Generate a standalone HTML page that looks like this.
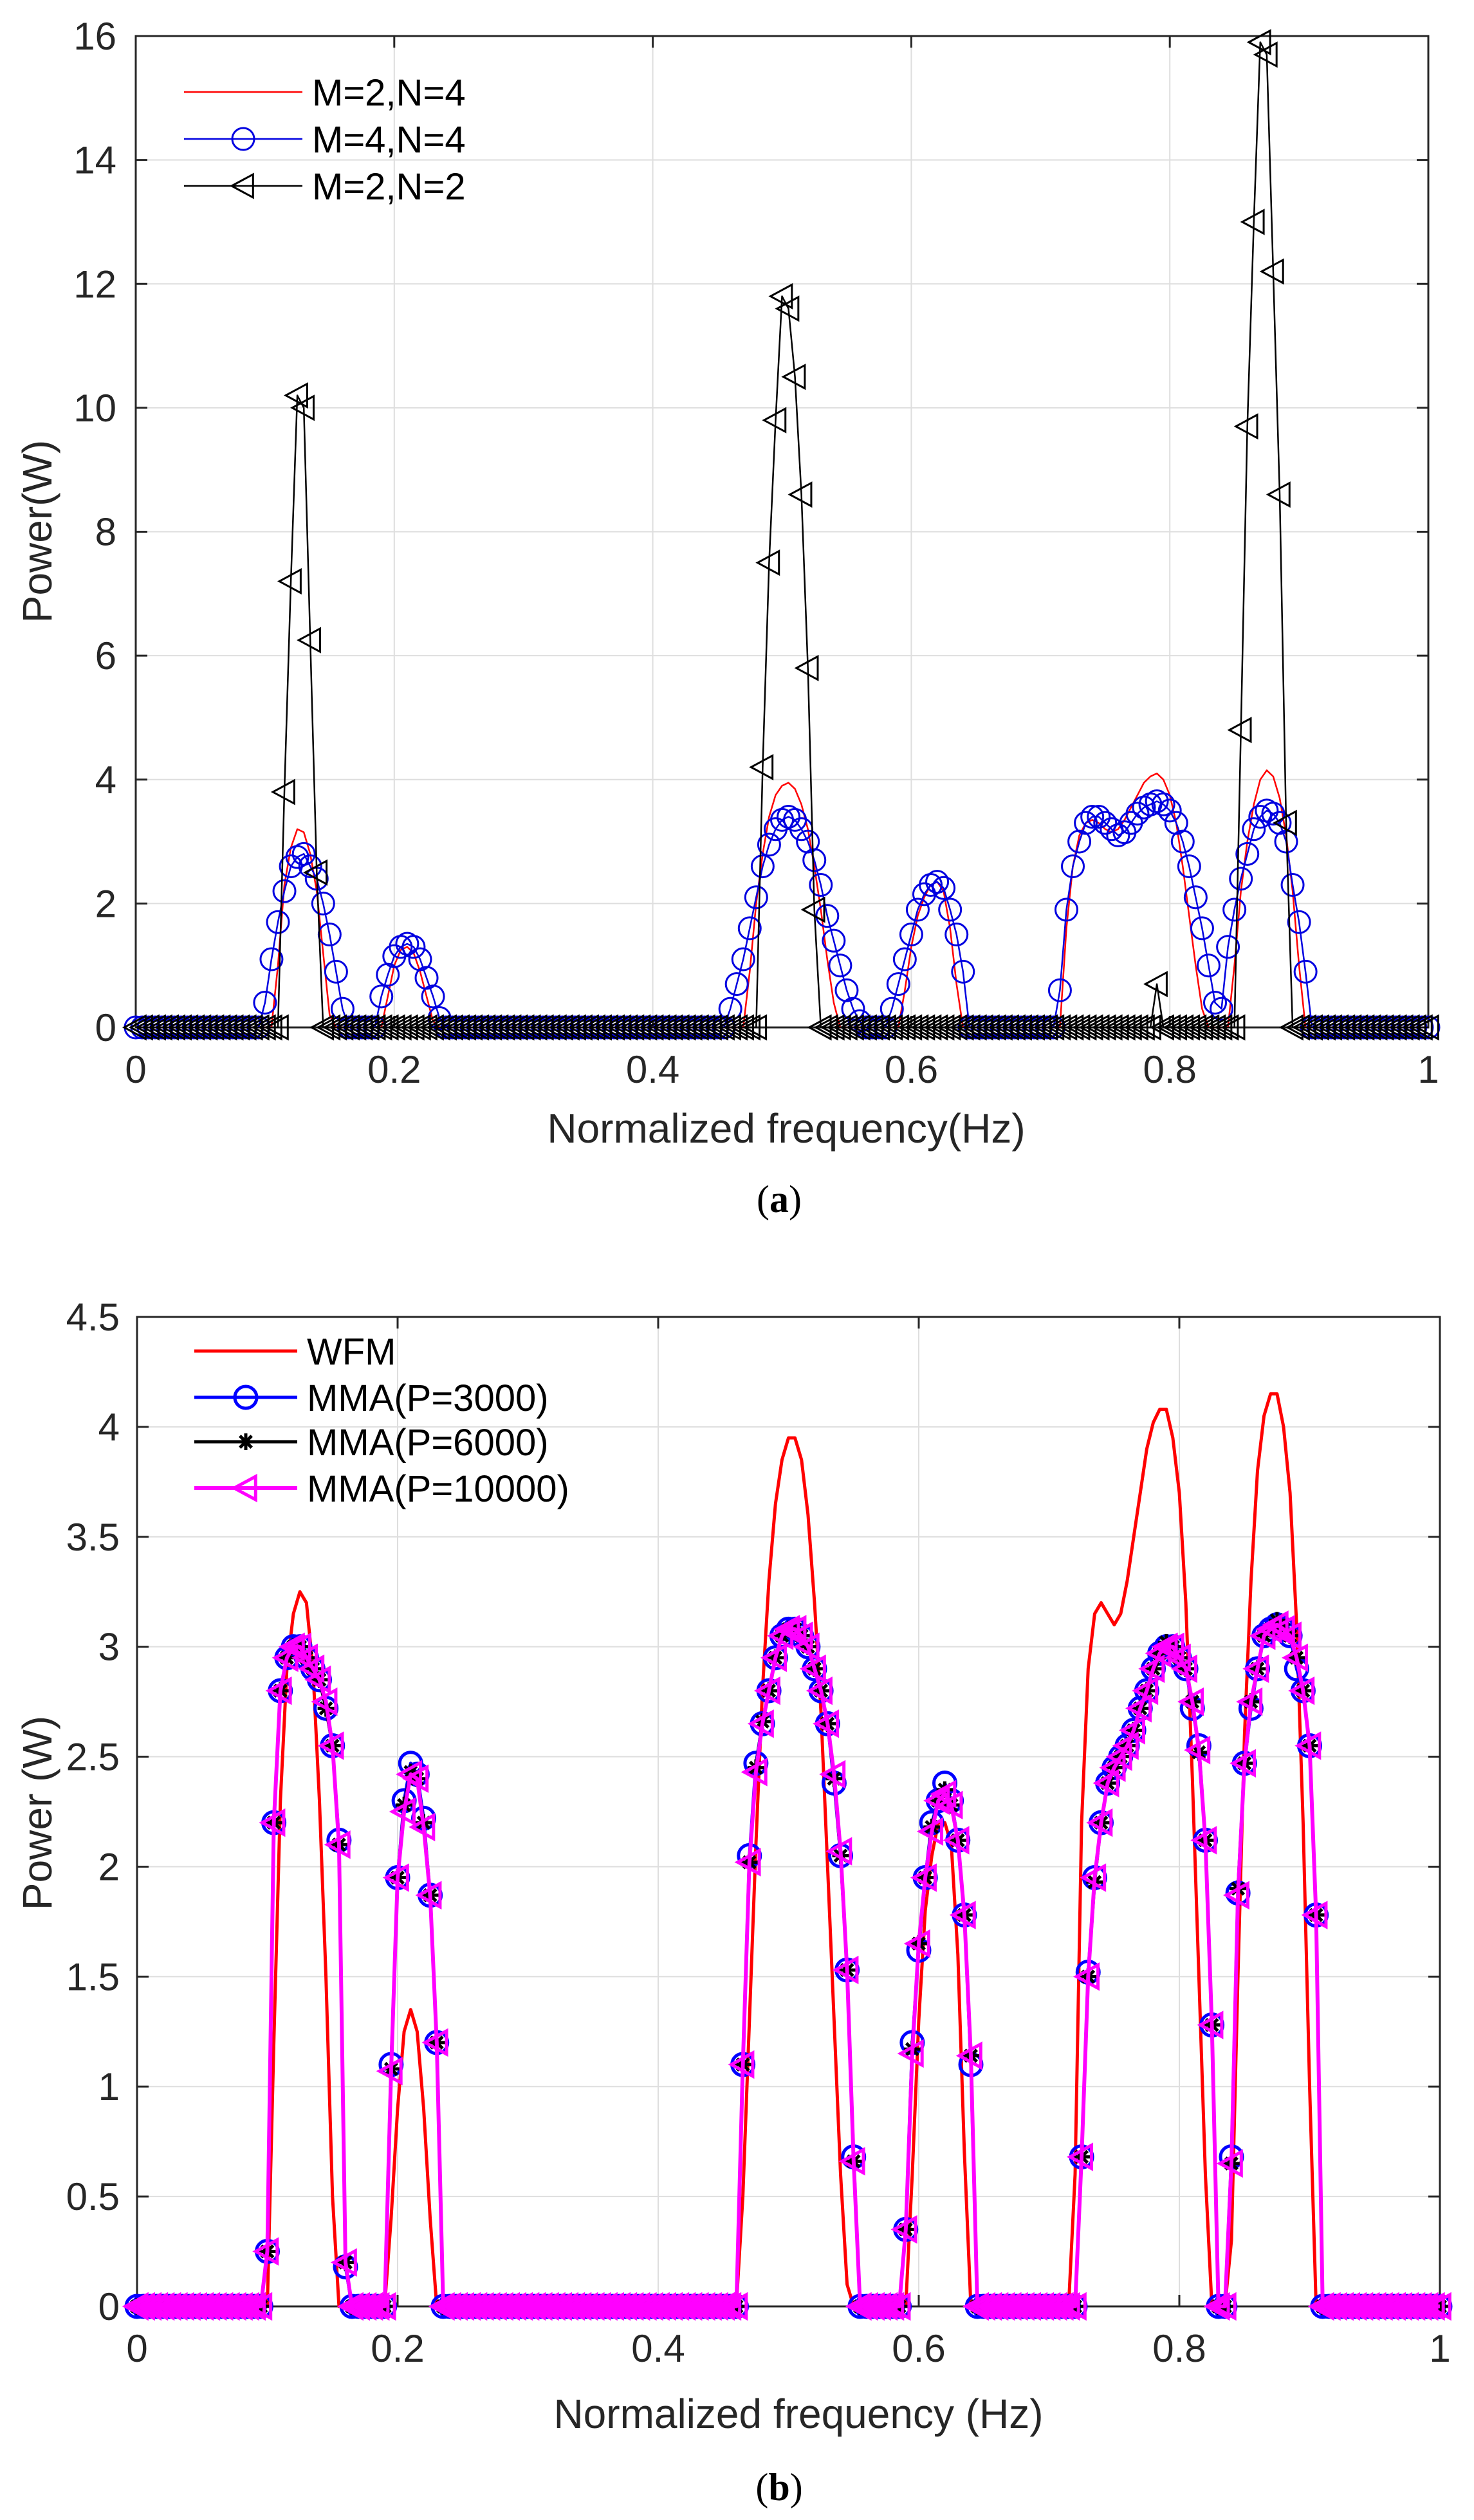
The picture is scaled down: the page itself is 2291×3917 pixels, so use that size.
<!DOCTYPE html>
<html><head><meta charset="utf-8"><title>Power spectrum charts</title>
<style>
html,body{margin:0;padding:0;background:#fff;}
svg{display:block;font-family:"Liberation Sans",sans-serif;}
</style></head>
<body>
<svg id="fig" width="2291" height="3917" viewBox="0 0 2291 3917" xmlns="http://www.w3.org/2000/svg">
<rect x="0" y="0" width="2291" height="3917" fill="#fff"/>
</svg>
<script>
// ===== Shared frequency grid (step 0.005, 0..1) =====
const freqStep = 0.005;
const freqCount = 201;

// ===== Chart (a) data =====
const xTicksA = [0, 0.2, 0.4, 0.6, 0.8, 1];
const xTickLabelsA = ["0", "0.2", "0.4", "0.6", "0.8", "1"];
const yTicksA = [0, 2, 4, 6, 8, 10, 12, 14, 16];
const yTickLabelsA = ["0", "2", "4", "6", "8", "10", "12", "14", "16"];
const legendA = ["M=2,N=4", "M=4,N=4", "M=2,N=2"];

const seriesA_M2N4 = [
0,0,0,0,0,0,0,0,0,0,0,0,0,0,0,0,0,0,0,0,
0,0,1.0,2.3,2.9,3.2,3.15,2.8,2.2,1.2,0.2,0,0,0,0,0,0,0,0,0.5,
1.0,1.25,1.3,1.2,0.9,0.5,0.1,0,0,0,0,0,0,0,0,0,0,0,0,0,
0,0,0,0,0,0,0,0,0,0,0,0,0,0,0,0,0,0,0,0,
0,0,0,0,0,0,0,0,0,0,0,0,0,0,0,0.9,2.0,2.8,3.4,3.75,
3.9,3.95,3.85,3.6,3.2,2.6,1.9,1.1,0.4,0,0,0,0,0,0,0,0,0,0,0.6,
1.3,1.8,2.1,2.3,2.35,2.2,1.6,0.7,0,0,0,0,0,0,0,0,0,0,0,0,
0,0,0,0,1.6,2.6,3.1,3.3,3.35,3.3,3.2,3.15,3.2,3.35,3.55,3.75,3.95,4.05,4.1,4.0,
3.75,3.3,2.6,1.8,1.0,0.3,0,0,0,0,1.0,2.2,3.0,3.6,4.0,4.15,4.05,3.7,3.1,2.2,
1.0,0,0,0,0,0,0,0,0,0,0,0,0,0,0,0,0,0,0,0,
0];
const seriesA_M4N4 = [
0,0,0,0,0,0,0,0,0,0,0,0,0,0,0,0,0,0,0,0,
0.4,1.1,1.7,2.2,2.6,2.75,2.8,2.6,2.4,2.0,1.5,0.9,0.3,0,0,0,0,0,0.5,0.85,
1.15,1.3,1.35,1.3,1.1,0.8,0.5,0.15,0,0,0,0,0,0,0,0,0,0,0,0,
0,0,0,0,0,0,0,0,0,0,0,0,0,0,0,0,0,0,0,0,
0,0,0,0,0,0,0,0,0,0,0,0,0.3,0.7,1.1,1.6,2.1,2.6,2.95,3.2,
3.35,3.4,3.35,3.2,3.0,2.7,2.3,1.8,1.4,1.0,0.6,0.3,0.1,0,0,0,0,0.3,0.7,1.1,
1.5,1.9,2.15,2.3,2.35,2.25,1.9,1.5,0.9,0,0,0,0,0,0,0,0,0,0,0,
0,0,0,0.6,1.9,2.6,3.0,3.3,3.4,3.4,3.3,3.2,3.1,3.15,3.3,3.45,3.55,3.6,3.65,3.6,
3.5,3.3,3.0,2.6,2.1,1.6,1.0,0.4,0.3,1.3,1.9,2.4,2.8,3.2,3.4,3.5,3.45,3.3,3.0,2.3,
1.7,0.9,0,0,0,0,0,0,0,0,0,0,0,0,0,0,0,0,0,0,
0];
const seriesA_M2N2 = [
0,0,0,0,0,0,0,0,0,0,0,0,0,0,0,0,0,0,0,0,
0,0,0,3.8,7.2,10.2,10.0,6.25,2.5,0,0,0,0,0,0,0,0,0,0,0,
0,0,0,0,0,0,0,0,0,0,0,0,0,0,0,0,0,0,0,0,
0,0,0,0,0,0,0,0,0,0,0,0,0,0,0,0,0,0,0,0,
0,0,0,0,0,0,0,0,0,0,0,0,0,0,0,0,0,4.2,7.5,9.8,
11.8,11.6,10.5,8.6,5.8,1.9,0,0,0,0,0,0,0,0,0,0,0,0,0,0,
0,0,0,0,0,0,0,0,0,0,0,0,0,0,0,0,0,0,0,0,
0,0,0,0,0,0,0,0,0,0,0,0,0,0,0,0,0,0,0.7,0,
0,0,0,0,0,0,0,0,0,0,0,4.8,9.7,13.0,15.9,15.7,12.2,8.6,3.3,0,
0,0,0,0,0,0,0,0,0,0,0,0,0,0,0,0,0,0,0,0,
0];

// ===== Chart (b) data =====
const xTicksB = [0, 0.2, 0.4, 0.6, 0.8, 1];
const xTickLabelsB = ["0", "0.2", "0.4", "0.6", "0.8", "1"];
const yTicksB = [0, 0.5, 1, 1.5, 2, 2.5, 3, 3.5, 4, 4.5];
const yTickLabelsB = ["0", "0.5", "1", "1.5", "2", "2.5", "3", "3.5", "4", "4.5"];
const legendB = ["WFM", "MMA(P=3000)", "MMA(P=6000)", "MMA(P=10000)"];

const seriesB_WFM = [
0,0,0,0,0,0,0,0,0,0,0,0,0,0,0,0,0,0,0,0,
0,1.2,2.3,2.9,3.15,3.25,3.2,2.9,2.3,1.5,0.5,0,0,0,0,0,0,0,0,0.4,
0.9,1.25,1.35,1.25,0.9,0.4,0,0,0,0,0,0,0,0,0,0,0,0,0,0,
0,0,0,0,0,0,0,0,0,0,0,0,0,0,0,0,0,0,0,0,
0,0,0,0,0,0,0,0,0,0,0,0,0,0.5,1.3,2.1,2.8,3.3,3.65,3.85,
3.95,3.95,3.85,3.6,3.2,2.7,2.0,1.3,0.6,0.1,0,0,0,0,0,0,0,0,0,0.6,
1.3,1.8,2.05,2.2,2.2,2.1,1.6,0.7,0,0,0,0,0,0,0,0,0,0,0,0,
0,0,0,0,0.6,2.2,2.9,3.15,3.2,3.15,3.1,3.15,3.3,3.5,3.7,3.9,4.02,4.08,4.08,3.95,
3.7,3.2,2.4,1.5,0.6,0,0,0,0.3,1.5,2.6,3.3,3.8,4.05,4.15,4.15,4.0,3.7,3.1,2.2,
1.0,0,0,0,0,0,0,0,0,0,0,0,0,0,0,0,0,0,0,0,
0];
const seriesB_P3000 = [
0,0,0,0,0,0,0,0,0,0,0,0,0,0,0,0,0,0,0,0,
0.25,2.2,2.8,2.95,3.0,3.0,2.95,2.9,2.85,2.72,2.55,2.12,0.18,0,0,0,0,0,0,1.1,
1.95,2.3,2.47,2.42,2.22,1.87,1.2,0,0,0,0,0,0,0,0,0,0,0,0,0,
0,0,0,0,0,0,0,0,0,0,0,0,0,0,0,0,0,0,0,0,
0,0,0,0,0,0,0,0,0,0,0,0,0,1.1,2.05,2.47,2.65,2.8,2.95,3.05,
3.08,3.08,3.05,3.0,2.9,2.8,2.65,2.38,2.05,1.53,0.68,0,0,0,0,0,0,0,0.35,1.2,
1.62,1.95,2.2,2.3,2.38,2.3,2.12,1.78,1.1,0,0,0,0,0,0,0,0,0,0,0,
0,0,0,0,0,0.68,1.52,1.95,2.2,2.38,2.45,2.5,2.55,2.62,2.72,2.8,2.9,2.97,3.0,3.0,
2.95,2.9,2.72,2.55,2.12,1.28,0,0,0.68,1.88,2.47,2.72,2.9,3.05,3.08,3.1,3.08,3.05,2.9,2.8,
2.55,1.78,0,0,0,0,0,0,0,0,0,0,0,0,0,0,0,0,0,0,
0];
const seriesB_P6000 = [
0,0,0,0,0,0,0,0,0,0,0,0,0,0,0,0,0,0,0,0,
0.25,2.2,2.8,2.95,3.0,3.0,2.95,2.9,2.85,2.72,2.55,2.1,0.2,0,0,0,0,0,0,1.08,
1.95,2.28,2.43,2.4,2.2,1.87,1.2,0,0,0,0,0,0,0,0,0,0,0,0,0,
0,0,0,0,0,0,0,0,0,0,0,0,0,0,0,0,0,0,0,0,
0,0,0,0,0,0,0,0,0,0,0,0,0,1.1,2.02,2.45,2.66,2.8,2.95,3.05,
3.08,3.08,3.05,3.0,2.9,2.8,2.65,2.4,2.05,1.53,0.66,0,0,0,0,0,0,0,0.35,1.17,
1.65,1.95,2.18,2.3,2.35,2.28,2.12,1.78,1.14,0,0,0,0,0,0,0,0,0,0,0,
0,0,0,0,0,0.68,1.5,1.93,2.2,2.38,2.45,2.5,2.55,2.62,2.72,2.8,2.9,2.97,3.02,3.0,
2.95,2.9,2.75,2.52,2.12,1.28,0,0,0.65,1.9,2.47,2.75,2.9,3.05,3.08,3.12,3.08,3.05,2.95,2.8,
2.55,1.78,0,0,0,0,0,0,0,0,0,0,0,0,0,0,0,0,0,0,
0];
const seriesB_P10000 = [
0,0,0,0,0,0,0,0,0,0,0,0,0,0,0,0,0,0,0,0,
0.25,2.2,2.8,2.95,3.0,3.0,2.95,2.9,2.85,2.75,2.55,2.1,0.2,0,0,0,0,0,0,1.07,
1.95,2.25,2.42,2.4,2.18,1.87,1.2,0,0,0,0,0,0,0,0,0,0,0,0,0,
0,0,0,0,0,0,0,0,0,0,0,0,0,0,0,0,0,0,0,0,
0,0,0,0,0,0,0,0,0,0,0,0,0,1.1,2.02,2.43,2.65,2.8,2.95,3.05,
3.08,3.08,3.05,3.0,2.9,2.8,2.65,2.42,2.07,1.53,0.66,0,0,0,0,0,0,0,0.35,1.15,
1.65,1.95,2.16,2.3,2.33,2.28,2.12,1.78,1.14,0,0,0,0,0,0,0,0,0,0,0,
0,0,0,0,0,0.68,1.5,1.95,2.2,2.38,2.45,2.5,2.55,2.62,2.72,2.8,2.9,2.97,3.0,3.0,
2.95,2.9,2.75,2.53,2.12,1.28,0,0,0.65,1.87,2.47,2.75,2.9,3.05,3.08,3.1,3.08,3.05,2.95,2.8,
2.55,1.78,0,0,0,0,0,0,0,0,0,0,0,0,0,0,0,0,0,0,
0];

// ===== Rendering =====
const NS = "http://www.w3.org/2000/svg";
const svg = document.getElementById("fig");
function mk(tag, attrs, parent) {
  const e = document.createElementNS(NS, tag);
  for (const k in attrs) e.setAttribute(k, attrs[k]);
  (parent || svg).appendChild(e);
  return e;
}
function linScale(d0, d1, r0, r1) { return v => r0 + (v - d0) / (d1 - d0) * (r1 - r0); }

function markerCircle(g, cx, cy, r, color, sw) {
  const c = mk("circle", {cx: cx, cy: cy, r: r, fill: "none", stroke: color, "stroke-width": sw}, g);
  
  
}
function markerTri(g, cx, cy, s, color, sw) {
  const p = mk("polygon", {points: (cx - s) + "," + cy + " " + (cx + s * 0.85) + "," + (cy - s) + " " + (cx + s * 0.85) + "," + (cy + s),
    fill: "none", stroke: color, "stroke-width": sw, "stroke-linejoin": "miter"}, g);
  
  
}
function markerStar(g, cx, cy, s, color, sw) {
  let d = "";
  for (let k = 0; k < 4; k++) {
    const a = k * Math.PI / 4;
    d += "M" + (cx - s * Math.cos(a)) + "," + (cy - s * Math.sin(a)) + "L" + (cx + s * Math.cos(a)) + "," + (cy + s * Math.sin(a));
  }
  const p = mk("path", {d: d, stroke: color, "stroke-width": sw, fill: "none"}, g);
  
  
}

function drawChart(cfg) {
  const {L, R, T, B, ymax, xTicks, xLabels, yTicks, yLabels, name} = cfg;
  const sx = linScale(0, 1, L, R);
  const sy = linScale(0, ymax, B, T);
  const g = mk("g", {});
  
  

  // grid
  const grid = mk("g", {stroke: "#dedede", "stroke-width": 2}, g);
  
  
  xTicks.forEach(v => { if (v > 0 && v < 1) mk("line", {x1: sx(v), x2: sx(v), y1: T, y2: B}, grid); });
  yTicks.forEach(v => { if (v > 0 && v < ymax) mk("line", {x1: L, x2: R, y1: sy(v), y2: sy(v)}, grid); });

  // axes box + ticks
  const ax = mk("g", {stroke: "#262626", "stroke-width": 3, fill: "none"}, g);
  
  
  mk("rect", {x: L, y: T, width: R - L, height: B - T}, ax);
  xTicks.forEach(v => {
    mk("line", {x1: sx(v), x2: sx(v), y1: B, y2: B - 18}, ax);
    mk("line", {x1: sx(v), x2: sx(v), y1: T, y2: T + 18}, ax);
  });
  yTicks.forEach(v => {
    mk("line", {x1: L, x2: L + 18, y1: sy(v), y2: sy(v)}, ax);
    mk("line", {x1: R, x2: R - 18, y1: sy(v), y2: sy(v)}, ax);
  });

  // tick labels
  const xl = mk("g", {"font-size": 60, fill: "#262626", "text-anchor": "middle"}, g);
  
  
  xTicks.forEach((v, i) => { const t = mk("text", {x: sx(v), y: B + 86}, xl); t.textContent = xLabels[i]; });
  const yl = mk("g", {"font-size": 60, fill: "#262626", "text-anchor": "end"}, g);
  
  
  yTicks.forEach((v, i) => { const t = mk("text", {x: cfg.yLabX, y: sy(v) + 21}, yl); t.textContent = yLabels[i]; });

  // titles
  const xt = mk("text", {x: cfg.xTitleX, y: cfg.xTitleY, "font-size": 64, fill: "#262626", "text-anchor": "middle"}, g);
  xt.textContent = cfg.xTitle;
  
  
  const yt = mk("text", {x: 0, y: 0, "font-size": 64, fill: "#262626", "text-anchor": "middle",
    transform: "translate(" + cfg.yTitleX + "," + cfg.yTitleY + ") rotate(-90)"}, g);
  yt.textContent = cfg.yTitle;
  
  

  // caption
  const cap = mk("text", {x: cfg.capX, y: cfg.capY, "font-size": 60, fill: "#000", "text-anchor": "middle",
    "font-family": "Liberation Serif, serif"}, g);
  
  
  const t1 = mk("tspan", {}, cap); t1.textContent = "(";
  const t2 = mk("tspan", {"font-weight": "bold"}, cap); t2.textContent = cfg.capLetter;
  const t3 = mk("tspan", {}, cap); t3.textContent = ")";

  // series
  cfg.series.forEach(s => {
    const sg = mk("g", {}, g);
    
    
    let d = "";
    s.values.forEach((v, i) => { d += (i ? "L" : "M") + sx(i * freqStep).toFixed(1) + "," + sy(v).toFixed(1); });
    const p = mk("path", {d: d, fill: "none", stroke: s.color, "stroke-width": s.lw, "stroke-linejoin": "round"}, sg);
    
    
    if (s.marker) {
      s.values.forEach((v, i) => {
        const cx = sx(i * freqStep), cy = sy(v);
        if (s.marker === "circle") markerCircle(sg, cx, cy, s.ms, s.mcolor || s.color, s.msw);
        else if (s.marker === "tri") markerTri(sg, cx, cy, s.ms, s.mcolor || s.color, s.msw);
        else if (s.marker === "star") markerStar(sg, cx, cy, s.ms, s.mcolor || s.color, s.msw);
      });
    }
  });

  // legend
  const lg = mk("g", {}, g);
  
  
  cfg.series.forEach((s, i) => {
    const y = cfg.legY[i];
    const eg = mk("g", {}, lg);
    
    
    mk("line", {x1: cfg.legX1, x2: cfg.legX2, y1: y, y2: y, stroke: s.color, "stroke-width": s.lw}, eg);
    const mx = (cfg.legX1 + cfg.legX2) / 2;
    if (s.marker === "circle") markerCircle(eg, mx, y, s.ms, s.mcolor || s.color, s.msw);
    else if (s.marker === "tri") markerTri(eg, mx, y, s.ms, s.mcolor || s.color, s.msw);
    else if (s.marker === "star") markerStar(eg, mx, y, s.ms, s.mcolor || s.color, s.msw);
    const t = mk("text", {x: cfg.legTX, y: y + 21, "font-size": 58, fill: "#000"}, eg);
    t.textContent = s.label;
  });
}

drawChart({
  name: "chart-a", L: 211, R: 2220, T: 56, B: 1597, ymax: 16,
  xTicks: xTicksA, xLabels: xTickLabelsA, yTicks: yTicksA, yLabels: yTickLabelsA,
  yLabX: 181, xTitle: "Normalized frequency(Hz)", xTitleX: 1222, xTitleY: 1776,
  yTitle: "Power(W)", yTitleX: 80, yTitleY: 826, capX: 1211, capY: 1884, capLetter: "a",
  legX1: 286, legX2: 470, legTX: 485, legY: [143, 216, 289],
  series: [
    {name: "series-m2-n4", label: legendA[0], values: seriesA_M2N4, color: "#ff0000", lw: 2.5},
    {name: "series-m4-n4", label: legendA[1], values: seriesA_M4N4, color: "#0000e0", lw: 2.5, marker: "circle", ms: 17, msw: 3},
    {name: "series-m2-n2", label: legendA[2], values: seriesA_M2N2, color: "#000000", lw: 2.5, marker: "tri", ms: 18, msw: 3}
  ]
});

drawChart({
  name: "chart-b", L: 213, R: 2238, T: 2047, B: 3585, ymax: 4.5,
  xTicks: xTicksB, xLabels: xTickLabelsB, yTicks: yTicksB, yLabels: yTickLabelsB,
  yLabX: 186, xTitle: "Normalized frequency (Hz)", xTitleX: 1241, xTitleY: 3774,
  yTitle: "Power (W)", yTitleX: 80, yTitleY: 2818, capX: 1211, capY: 3886, capLetter: "b",
  legX1: 302, legX2: 462, legTX: 477, legY: [2100, 2172, 2241, 2313],
  series: [
    {name: "series-wfm", label: legendB[0], values: seriesB_WFM, color: "#ff0000", lw: 5},
    {name: "series-mma-3000", label: legendB[1], values: seriesB_P3000, color: "#0000ff", lw: 5, marker: "circle", ms: 17, msw: 5},
    {name: "series-mma-6000", label: legendB[2], values: seriesB_P6000, color: "#000000", lw: 5, marker: "star", ms: 13, msw: 5},
    {name: "series-mma-10000", label: legendB[3], values: seriesB_P10000, color: "#ff00ff", lw: 6, marker: "tri", ms: 18, msw: 5}
  ]
});
</script>
</body></html>
